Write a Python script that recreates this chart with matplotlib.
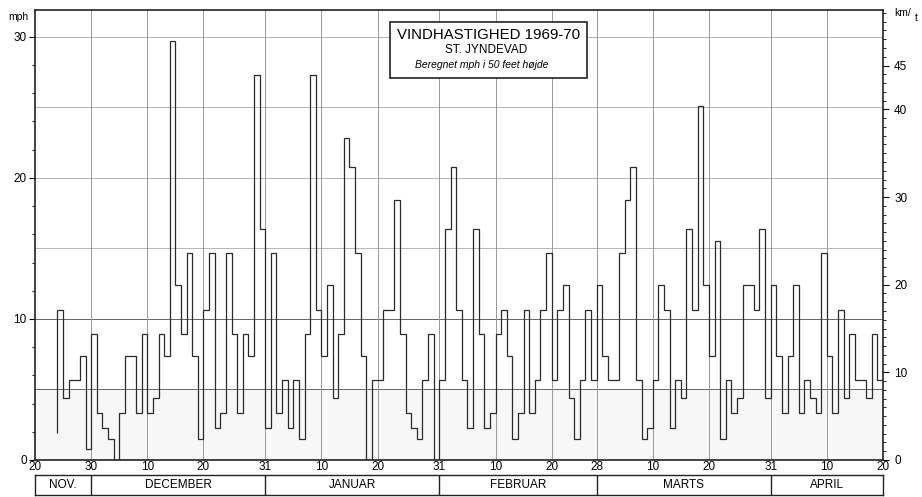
import matplotlib
matplotlib.use("Agg")
import matplotlib.pyplot as plt
from matplotlib.patches import Rectangle
import numpy as np

plt.rcParams['font.family'] = ['Liberation Sans', 'DejaVu Sans']

# daily wind speed (mph), first value is 24 Nov 1969, days counted from 20 Nov
first_day = 4
start_level = 1.9
mph = [10.6, 4.4, 5.7, 5.7, 7.4, 0.8,
       8.9, 3.3, 2.3, 1.5, 0, 3.3, 7.4, 7.4, 3.3, 8.9,
       3.3, 4.4, 8.9, 7.4, 29.7, 12.4, 8.9, 14.7, 7.4, 1.5,
       10.6, 14.7, 2.3, 3.3, 14.7, 8.9, 3.3, 8.9, 7.4, 27.3, 16.4,
       2.3, 14.7, 3.3, 5.7, 2.3, 5.7, 1.5, 8.9, 27.3, 10.6,
       7.4, 12.4, 4.4, 8.9, 22.8, 20.8, 14.7, 7.4, 0, 5.7,
       5.7, 10.6, 10.6, 18.4, 8.9, 3.3, 2.3, 1.5, 5.7, 8.9, 0,
       5.7, 16.4, 20.8, 10.6, 5.7, 2.3, 16.4, 8.9, 2.3, 3.3,
       8.9, 10.6, 7.4, 1.5, 3.3, 10.6, 3.3, 5.7, 10.6, 14.7,
       5.7, 10.6, 12.4, 4.4, 1.5, 5.7, 10.6, 5.7,
       12.4, 7.4, 5.7, 5.7, 14.7, 18.4, 20.8, 5.7, 1.5, 2.3,
       5.7, 12.4, 10.6, 2.3, 5.7, 4.4, 16.4, 10.6, 25.1, 12.4,
       7.4, 15.5, 1.5, 5.7, 3.3, 4.4, 12.4, 12.4, 10.6, 16.4, 4.4,
       12.4, 7.4, 3.3, 7.4, 12.4, 3.3, 5.7, 4.4, 3.3, 14.7,
       7.4, 3.3, 10.6, 4.4, 8.9, 5.7, 5.7, 4.4, 8.9, 5.7]

months = ['NOV.', 'DECEMBER', 'JANUAR', 'FEBRUAR', 'MARTS', 'APRIL']
month_days = [10, 31, 31, 28, 31, 20]   # days shown of each month
end_labels = ['20', '30', '31', '31', '28', '31']

edges = np.cumsum([0] + month_days)
ticks, tick_labels = [], []
for i, start in enumerate(edges[:-1]):
    ticks.append(start)
    tick_labels.append(end_labels[i] if i else '20')
    if i:
        ticks += [start + 10, start + 20]
        tick_labels += ['10', '20']
ticks = [t for t in ticks if t <= edges[-1]]
tick_labels = tick_labels[:len(ticks)]
if edges[-1] not in ticks:
    ticks.append(edges[-1])
    tick_labels.append('20')

fig = plt.figure(figsize=(9.22, 4.97), dpi=100)
ax = fig.add_axes([35 / 922, 37 / 497, 848 / 922, 450 / 497])

ax.set_xlim(0, edges[-1])
ax.set_ylim(0, 31.9)
ax.axhspan(0, 5, color='#f7f7f7', zorder=0)

for y in [5, 10, 15, 20, 25, 30]:
    ax.axhline(y, color='#666' if y in (5, 10) else '#b5b5b5', lw=0.7, zorder=1)
for t in ticks[1:-1]:
    ax.axvline(t, color='#999', lw=0.7, zorder=1)

x_edges = np.arange(first_day, first_day + len(mph) + 1)
ax.stairs(mph, x_edges, baseline=None, color='#2a2a2a', lw=0.9, zorder=3)
ax.vlines(first_day, start_level, mph[0], color='#2a2a2a', lw=0.9, zorder=3)

ax.set_xticks(ticks)
ax.set_xticklabels(tick_labels, fontsize=8.5)
ax.tick_params(axis='x', length=0, pad=1)
ax.set_yticks([0, 10, 20, 30])
ax.set_yticklabels(['0', '10', '20', '30'], fontsize=8.5)
ax.set_yticks(np.arange(0, 32, 2), minor=True)
ax.tick_params(axis='y', which='major', length=4, pad=2)
ax.tick_params(axis='y', which='minor', length=2)
for s in ax.spines.values():
    s.set_linewidth(1.2)
    s.set_color('#222')

# right km/t axis
ax2 = ax.twinx()
ax2.set_ylim(0, 31.9 * 1.609344)
ax2.set_yticks([0, 10, 20, 30, 40, 45])
ax2.set_yticklabels(['0', '10', '20', '30', '40', '45'], fontsize=8.5)
ax2.set_yticks(np.arange(0, 52, 1), minor=True)
ax2.tick_params(axis='y', which='major', length=4, pad=4)
ax2.tick_params(axis='y', which='minor', length=2)
for s in ax2.spines.values():
    s.set_visible(False)

fig.text(18 / 922, 1 - 17 / 497, 'mph', fontsize=7.5, ha='center', va='center')
fig.text(903 / 922, 1 - 13 / 497, 'km/', fontsize=7.5, ha='center', va='center')
fig.text(916 / 922, 1 - 18 / 497, 't', fontsize=7.5, ha='center', va='center')

# title box
ax.add_patch(Rectangle((0.419, 0.849), 0.232, 0.124, transform=ax.transAxes,
                       fill=True, facecolor='white', edgecolor='#222', lw=1.2, zorder=4))
ax.text(0.535, 0.944, 'VINDHASTIGHED 1969-70', transform=ax.transAxes,
        fontsize=10.8, ha='center', va='center', zorder=5)
ax.text(0.532, 0.911, 'ST. JYNDEVAD', transform=ax.transAxes,
        fontsize=8.5, ha='center', va='center', zorder=5)
ax.text(0.527, 0.877, 'Beregnet mph i 50 feet højde', transform=ax.transAxes,
        fontsize=7.5, style='italic', ha='center', va='center', zorder=5)

# month band
axm = fig.add_axes([35 / 922, 2 / 497, 848 / 922, 20 / 497])
axm.set_xlim(0, edges[-1])
axm.set_ylim(0, 1)
axm.set_xticks([])
axm.set_yticks([])
for b in edges[1:-1]:
    axm.axvline(b, color='#222', lw=1.0)
for i, name in enumerate(months):
    axm.text((edges[i] + edges[i + 1]) / 2, 0.5, name, fontsize=8.5,
             ha='center', va='center')
for s in axm.spines.values():
    s.set_linewidth(1.0)
    s.set_color('#222')

fig.savefig('out.png', dpi=100)
